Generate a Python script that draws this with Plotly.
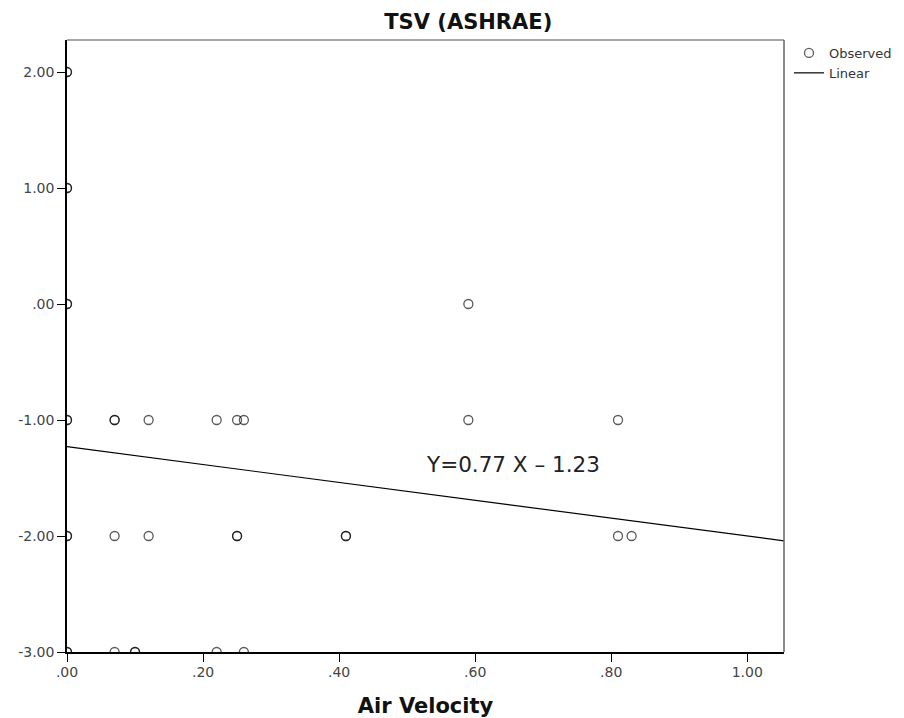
import plotly.graph_objects as go

# Observed data (Air Velocity vs TSV)
air_velocity = [0.00, 0.00, 0.00, 0.00, 0.00, 0.00, 0.00, 0.00, 0.00, 0.00, 0.00, 0.00,
                0.59,
                0.07, 0.07, 0.12, 0.22, 0.25, 0.26, 0.59, 0.81,
                0.07, 0.12, 0.25, 0.25, 0.41, 0.41, 0.81, 0.83,
                0.07, 0.10, 0.10, 0.22, 0.26]
tsv = [2, 2, 1, 1, 0, 0, -1, -1, -2, -2, -3, -3,
       0,
       -1, -1, -1, -1, -1, -1, -1, -1,
       -2, -2, -2, -2, -2, -2, -2, -2,
       -3, -3, -3, -3, -3]

# Linear fit parameters
fit_slope = -0.77
fit_intercept = -1.23
fit_x = [0.0, 1.054]
fit_y = [fit_intercept + fit_slope * v for v in fit_x]
fit_label = "Y=0.77 X \u2013 1.23"

x_tickvals = [0.0, 0.2, 0.4, 0.6, 0.8, 1.0]
x_ticktext = [".00", ".20", ".40", ".60", ".80", "1.00"]
y_tickvals = [-3, -2, -1, 0, 1, 2]
y_ticktext = ["-3.00", "-2.00", "-1.00", ".00", "1.00", "2.00"]

FONT = "DejaVu Sans"

fig = go.Figure()
fig.add_trace(go.Scatter(
    x=air_velocity, y=tsv, mode="markers", name="Observed",
    marker=dict(symbol="circle-open", size=9, color="rgba(0,0,0,0.65)",
                line=dict(width=1.3)),
))
fig.add_trace(go.Scatter(
    x=fit_x, y=fit_y, mode="lines", name="Linear",
    line=dict(color="black", width=1.2),
))

fig.add_annotation(x=0.655, y=-1.38, xref="x", yref="y", text=fit_label,
                   showarrow=False, font=dict(family=FONT, size=21.5, color="#222"),
                   xanchor="center", yanchor="middle")

# gray frame top/right
fig.add_shape(type="line", xref="paper", yref="paper", x0=0, x1=1, y0=1, y1=1,
              line=dict(color="#888", width=1.5))
fig.add_shape(type="line", xref="paper", yref="paper", x0=1, x1=1, y0=0, y1=1,
              line=dict(color="#666", width=1.5))

fig.update_layout(
    width=904, height=718,
    margin=dict(l=67, r=120, t=40, b=66, autoexpand=False),
    paper_bgcolor="white", plot_bgcolor="white",
    title=dict(text="TSV (ASHRAE)", x=0.518, xref="container", xanchor="center",
               y=1 - 22 / 718, yref="container", yanchor="middle",
               font=dict(family=FONT, size=21, color="#111", weight="bold")),
    font=dict(family=FONT, size=14, color="#333"),
    showlegend=True,
    legend=dict(x=789 / 904, y=1 - 38 / 718, xref="container", yref="container",
                xanchor="left", yanchor="top",
                font=dict(family=FONT, size=13, color="#333"),
                itemwidth=30, tracegroupgap=0, bgcolor="rgba(0,0,0,0)"),
    xaxis=dict(range=[0, 1.054], tickvals=x_tickvals, ticktext=x_ticktext,
               showgrid=False, zeroline=False, showline=True, linecolor="black",
               linewidth=1.5, ticks="outside", ticklen=8, tickcolor="black",
               ticklabelstandoff=-2,
               tickfont=dict(family=FONT, size=14, color="#444"),
               title=dict(text="Air Velocity", standoff=21,
                          font=dict(family=FONT, size=21, color="#111", weight="bold"))),
    yaxis=dict(range=[-3, 2.276], tickvals=y_tickvals, ticktext=y_ticktext,
               showgrid=False, zeroline=False, showline=True, linecolor="black",
               linewidth=1.5, ticks="outside", ticklen=8, tickcolor="black",
               tickfont=dict(family=FONT, size=14, color="#444")),
)

fig.write_html("out.html")
